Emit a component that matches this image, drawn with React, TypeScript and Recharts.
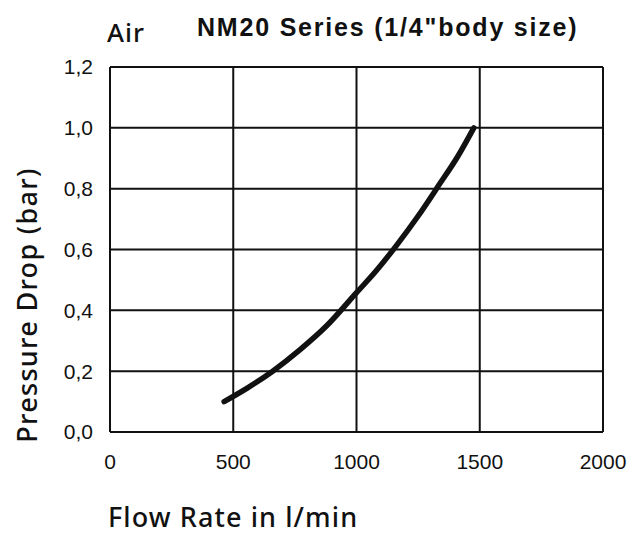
import React from "react";
import { LineChart, Line, XAxis, YAxis, CartesianGrid } from "recharts";

const flowRate = [463, 560, 660, 770, 880, 1000, 1080, 1161, 1250, 1337, 1410, 1476];
const pressureDrop = [0.1, 0.146, 0.2, 0.27, 0.35, 0.458, 0.53, 0.612, 0.71, 0.815, 0.905, 1.0];
const xTicks = [0, 500, 1000, 1500, 2000];
const yTicks = [0, 0.2, 0.4, 0.6, 0.8, 1.0, 1.2];

const data = flowRate.map((f, i) => ({ flow: f, drop: pressureDrop[i] }));

const tickFont = { fontFamily: "Liberation Sans, Arial, sans-serif", fontSize: 21, fill: "#111" };
const labelFont = { fontFamily: "Noto Sans, sans-serif", fontWeight: 500, fill: "#111" } as const;

export default function App() {
  return (
    <div style={{ position: "absolute", left: 0, top: 0, width: 643, height: 535, background: "#fff" }}>
      <LineChart width={643} height={535} data={data} margin={{ top: 67, right: 40, bottom: 0, left: 0 }}>
        <CartesianGrid stroke="#111" strokeWidth={2} horizontalValues={yTicks} verticalValues={xTicks} />
        <XAxis
          type="number"
          dataKey="flow"
          domain={[0, 2000]}
          ticks={xTicks}
          axisLine={false}
          tickLine={false}
          height={103}
          tick={tickFont}
          tickMargin={16}
        />
        <YAxis
          type="number"
          domain={[0, 1.2]}
          ticks={yTicks}
          axisLine={false}
          tickLine={false}
          width={110}
          tick={tickFont}
          tickMargin={11}
          tickFormatter={(v: number) => v.toFixed(1).replace(".", ",")}
        />
        <Line
          type="monotone"
          dataKey="drop"
          stroke="#111"
          strokeWidth={5.5}
          strokeLinecap="round"
          dot={false}
          isAnimationActive={false}
        />
      </LineChart>
      <svg width={643} height={535} style={{ position: "absolute", left: 0, top: 0, pointerEvents: "none" }}>
        <text x={107} y={42} fontSize={26} letterSpacing={1} {...labelFont}>Air</text>
        <text x={197} y={36} fontFamily="Liberation Sans, Arial, sans-serif" fontWeight={700} fontSize={25} letterSpacing={1.8} fill="#111">NM20 Series (1/4"body size)</text>
        <text x={108} y={527} fontSize={27} letterSpacing={1.1} {...labelFont}>Flow Rate in l/min</text>
        <text x={0} y={0} fontSize={27} letterSpacing={1.3} textAnchor="middle" transform="translate(37,305) rotate(-90)" {...labelFont}>Pressure Drop (bar)</text>
      </svg>
    </div>
  );
}
